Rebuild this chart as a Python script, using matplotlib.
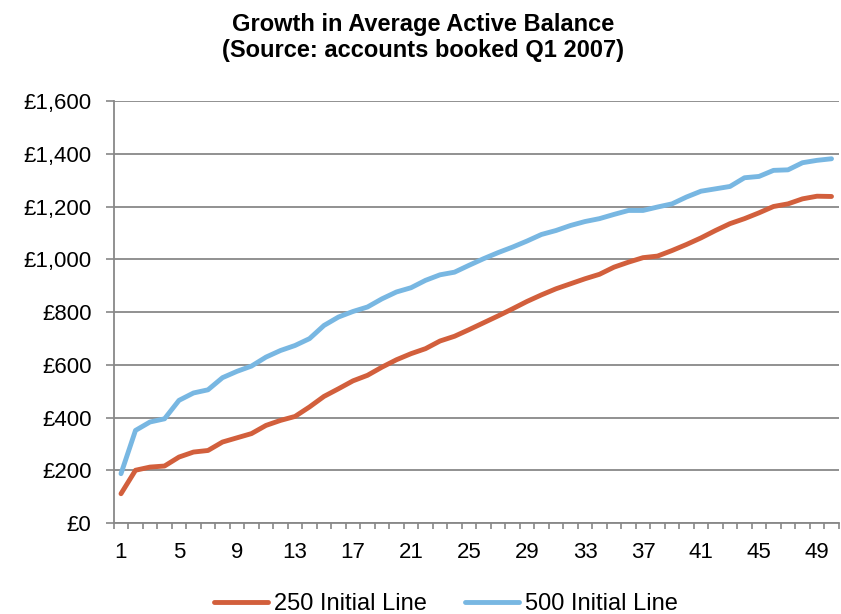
import matplotlib
matplotlib.use("Agg")
import matplotlib.pyplot as plt
import numpy as np

plt.rcParams['font.family'] = ['Liberation Sans', 'DejaVu Sans']

# Months on book
months = list(range(1, 51))

# Average active balance (GBP) by month on book
line_250 = [111, 200, 212, 216, 250, 269, 275, 307, 323, 339,
            370, 389, 404, 440, 480, 509, 539, 560, 591, 619,
            642, 661, 690, 708, 733, 759, 785, 812, 840, 865,
            888, 907, 926, 943, 970, 989, 1006, 1012, 1033, 1056,
            1081, 1109, 1135, 1154, 1176, 1200, 1210, 1229, 1239, 1238]
line_500 = [187, 351, 383, 395, 465, 493, 505, 551, 575, 595,
            629, 654, 673, 699, 749, 781, 802, 819, 850, 876,
            892, 920, 941, 951, 977, 1002, 1025, 1046, 1069, 1094,
            1109, 1128, 1143, 1154, 1170, 1185, 1185, 1198, 1210, 1236,
            1258, 1267, 1276, 1309, 1314, 1337, 1339, 1366, 1375, 1381]

series_labels = ['250 Initial Line', '500 Initial Line']
series_colors = ['#D25F3C', '#78B7E2']

title_lines = ['Growth in Average Active Balance',
               '(Source: accounts booked Q1 2007)']

y_ticks = list(range(0, 1601, 200))
x_tick_labels = list(range(1, 50, 4))

W, H = 841, 614
fig = plt.figure(figsize=(W / 100, H / 100), dpi=100)
ax = fig.add_axes([113.75 / W, 1 - 523 / H, 725 / W, 422 / H])

grid_color = '#888888'

for vals, lab, col in zip([line_250, line_500], series_labels, series_colors):
    ax.plot(months, vals, color=col, lw=3.5, label=lab,
            solid_capstyle='round', solid_joinstyle='round', zorder=3)

ax.set_xlim(0.5, 50.5)
ax.set_ylim(0, 1600)

ax.set_yticks(y_ticks)
ax.set_yticklabels([f'£{v:,}' for v in y_ticks])
ax.yaxis.grid(True, color=grid_color, lw=1.3)
ax.set_axisbelow(True)

ax.set_xticks(x_tick_labels)
ax.set_xticklabels([str(v) for v in x_tick_labels])
ax.set_xticks(np.arange(0.5, 51, 1), minor=True)

ax.tick_params(axis='y', length=6, width=1.2, color=grid_color,
               labelsize=16, pad=10, labelcolor='black')
ax.tick_params(axis='x', which='major', length=0, labelsize=16, pad=14,
               labelcolor='black')
ax.tick_params(axis='x', which='minor', length=4, width=1.2, color=grid_color)

for side in ['top', 'right']:
    ax.spines[side].set_visible(False)
for side in ['left', 'bottom']:
    ax.spines[side].set_color(grid_color)
    ax.spines[side].set_linewidth(1.3)

fig.text(423 / W, 1 - 24 / H, title_lines[0], ha='center', va='center',
         fontsize=17, fontweight='bold')
fig.text(423 / W, 1 - 50 / H, title_lines[1], ha='center', va='center',
         fontsize=17, fontweight='bold')

fig.legend(loc='center', bbox_to_anchor=(446 / W, 1 - 604 / H), ncol=2,
           frameon=False, fontsize=17, handlelength=2.3,
           handletextpad=0.25, columnspacing=1.6, borderpad=0)

fig.savefig('out.png', dpi=100)
